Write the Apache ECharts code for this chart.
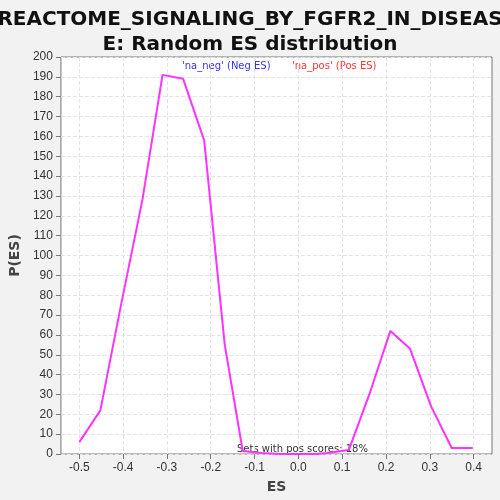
<!DOCTYPE html>
<html><head><meta charset="utf-8">
<script src="https://cdn.jsdelivr.net/npm/echarts@6/dist/echarts.min.js"></script>
<style>html,body{margin:0;background:#f2f2f2}#chart{width:500px;height:500px}</style>
</head><body><div id="chart"></div>
<script>
var esValues = [-0.5, -0.452, -0.404, -0.356, -0.31, -0.263, -0.215, -0.168, -0.127, -0.084, -0.04, 0.0, 0.04, 0.066, 0.115, 0.162, 0.21, 0.255, 0.303, 0.35, 0.398];
var pValues = [6, 22, 76, 128, 191, 189, 158, 55, 1.5, 0.5, 0, 0, 0, 0.5, 2, 30, 62, 53, 24, 3, 3];
var xTicks = [-0.5, -0.4, -0.3, -0.2, -0.1, 0.0, 0.1, 0.2, 0.3, 0.4];

var myChart = echarts.init(document.getElementById('chart'));
var data = [];
for (var i = 0; i < esValues.length; i++) data.push([esValues[i], pValues[i]]);
var option = {
    backgroundColor: '#f2f2f2',
    title: {
        text: 'REACTOME_SIGNALING_BY_FGFR2_IN_DISEAS\nE: Random ES distribution',
        left: 'center', top: 2,
        textStyle: { fontFamily: 'DejaVu Sans', fontWeight: 'bold', fontSize: 20, lineHeight: 25, color: '#111' }
    },
    grid: { left: 60, right: 8, top: 57, bottom: 46, backgroundColor: '#fff', show: true, borderColor: '#777', borderWidth: 1 },
    xAxis: {
        type: 'value', min: -0.542, max: 0.442,
        name: 'ES', nameLocation: 'middle', nameGap: 26,
        nameTextStyle: { fontFamily: 'DejaVu Sans', fontWeight: 'bold', fontSize: 14, color: '#444' },
        axisLine: { show: false, onZero: false },
        axisTick: { show: true, customValues: xTicks, lineStyle: { color: '#777' } },
        axisLabel: { customValues: xTicks, color: '#333', fontSize: 12, formatter: function (v) { return v.toFixed(1); } },
        splitLine: { show: true, lineStyle: { type: 'dashed', color: '#e4e4e4' } }
    },
    yAxis: {
        type: 'value', min: 0, max: 200, interval: 10,
        name: 'P(ES)', nameLocation: 'middle', nameGap: 38,
        nameTextStyle: { fontFamily: 'DejaVu Sans', fontWeight: 'bold', fontSize: 14, color: '#444' },
        axisLine: { show: false, onZero: false },
        axisTick: { show: true, lineStyle: { color: '#777' } },
        axisLabel: { color: '#333', fontSize: 12 },
        splitLine: { show: true, lineStyle: { type: 'dashed', color: '#e4e4e4' } }
    },
    series: [{
        type: 'line', data: data, symbol: 'none',
        lineStyle: { color: '#ff33ff', width: 2 }
    }],
    graphic: [
        { type: 'text', left: 182, top: 61, style: { text: "'na_neg' (Neg ES)", fill: '#3333ff', fontSize: 10, fontFamily: 'DejaVu Sans' } },
        { type: 'text', left: 292, top: 61, style: { text: "'na_pos' (Pos ES)", fill: '#ff3333', fontSize: 10, fontFamily: 'DejaVu Sans' } },
        { type: 'text', left: 237, top: 444, style: { text: 'Sets with pos scores: 18%', fill: '#333', fontSize: 10, fontFamily: 'DejaVu Sans' } }
    ]
};
myChart.setOption(option);
</script></body></html>
